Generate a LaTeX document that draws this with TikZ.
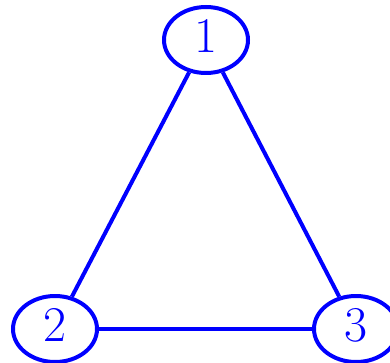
\documentclass[tikz,border=0pt]{standalone}
\usetikzlibrary{shapes.geometric}
\begin{document}
\begin{tikzpicture}[x=1pt, y=-1pt, line width=4pt, blue,
    vertex/.style={draw, ellipse, minimum width=84pt, minimum height=66pt,
        inner sep=0pt, text depth=8pt, font=\fontsize{50}{50}\selectfont}]
    \useasboundingbox (0, 0) rectangle (390, 363);

    % Vertices
    \node[vertex] (n1) at (206, 40) {1};
    \node[vertex] (n2) at (55, 329) {2};
    \node[vertex] (n3) at (356, 329) {3};

    % Edges
    \draw (n1) -- (n2);
    \draw (n1) -- (n3);
    \draw (n2) -- (n3);
\end{tikzpicture}
\end{document}
